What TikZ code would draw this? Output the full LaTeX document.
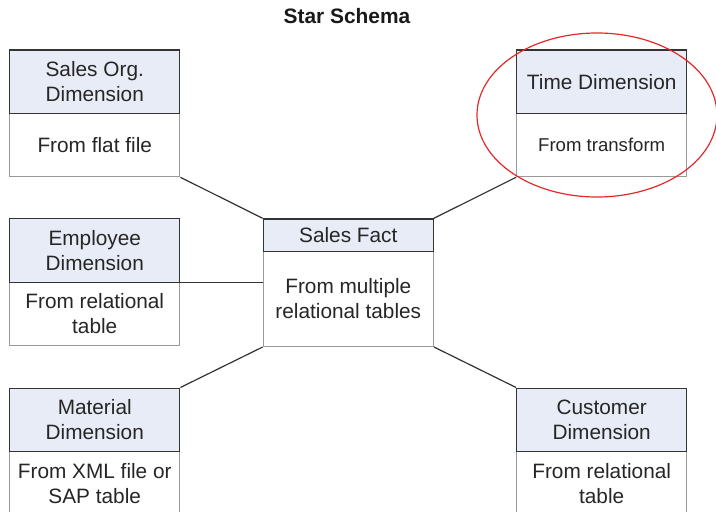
\documentclass[tikz,border=0pt]{standalone}
\usepackage{fontspec}
\setmainfont{Liberation Sans}
\definecolor{hdrfill}{RGB}{232,236,246}
\definecolor{ringred}{RGB}{228,40,40}
\begin{document}
\begin{tikzpicture}[x=1pt,y=-1pt,
  hdr/.style={draw=black!80, fill=hdrfill, text=black!85, line width=1.3pt, minimum width=170pt, anchor=north, align=center, inner sep=0pt, font=\fontsize{20.8}{25}\selectfont},
  bdy/.style={draw=black!40, text=black!85, line width=1.3pt, minimum width=170pt, anchor=north, align=center, inner sep=0pt, font=\fontsize{20.8}{25}\selectfont},
  link/.style={draw=black!80, line width=1.2pt}]
\useasboundingbox (0,0) rectangle (716,512);
\node[font=\bfseries\fontsize{20.9}{25}\selectfont, text=black!90] (T) at (347,16) {Star Schema};
\node[bdy, minimum height=63.3pt] (OB) at (94.75,112.7) {From flat file};
\node[hdr, minimum height=63.3pt] (OH) at (94.75,49.4) {Sales Org.\\Dimension};
\node[bdy, minimum height=63.5pt] (EB) at (94.75,281.5) {From relational\\table};
\node[hdr, minimum height=63.5pt] (EH) at (94.75,218) {Employee\\Dimension};
\node[bdy, minimum height=63.5pt] (MB) at (94.75,451) {From XML file or\\SAP table};
\node[hdr, minimum height=63.5pt] (MH) at (94.75,387.5) {Material\\Dimension};
\node[bdy, minimum height=95pt] (FB) at (348.3,250.7) {From multiple\\relational tables};
\node[hdr, minimum height=32.4pt] (FH) at (348.3,218.3) {Sales Fact};
\node[bdy, minimum height=63.3pt, font=\fontsize{18.6}{25}\selectfont] (TB) at (601.7,112.7) {From transform};
\node[hdr, minimum height=63.3pt] (TH) at (601.7,49.4) {Time Dimension};
\node[bdy, minimum height=63.5pt] (CB) at (601.7,451) {From relational\\table};
\node[hdr, minimum height=63.5pt] (CH) at (601.7,387.5) {Customer\\Dimension};
\draw[link] (OB.south east) -- (FH.north west);
\draw[link] (TB.south west) -- (FH.north east);
\draw[link] (EH.south east) -- (EH.south east -| FB.west);
\draw[link] (MH.north east) -- (FB.south west);
\draw[link] (CH.north west) -- (FB.south east);
\draw[ringred, line width=1.2pt] (597,115) ellipse [x radius=120pt, y radius=82pt];
\end{tikzpicture}
\end{document}
